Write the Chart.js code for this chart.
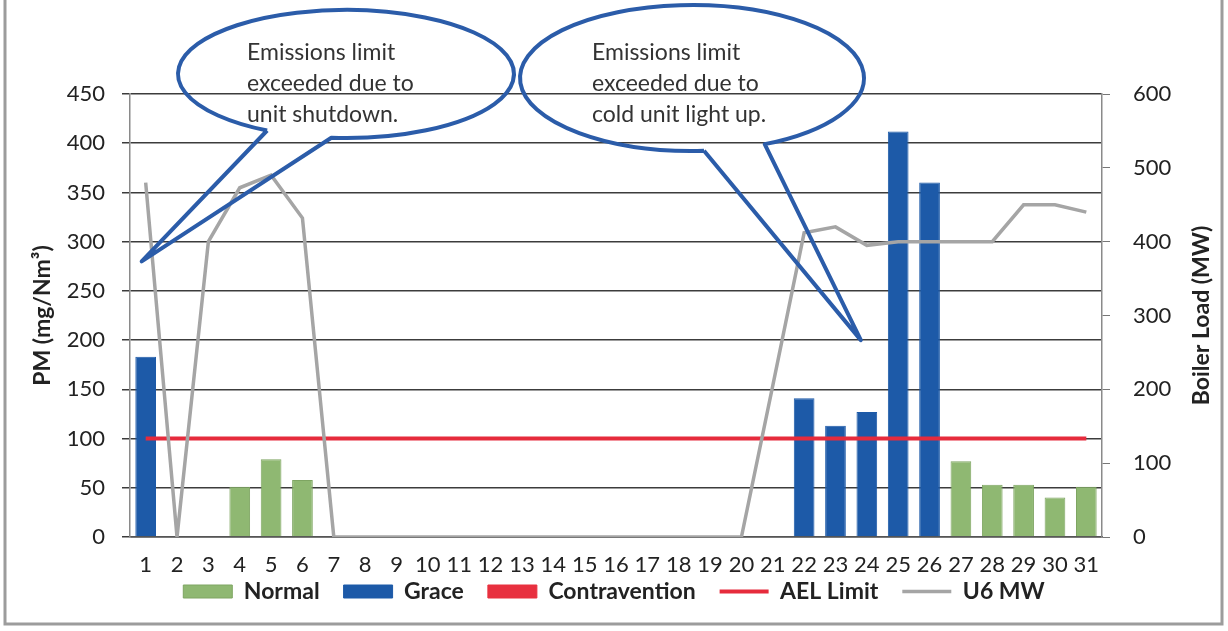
<!DOCTYPE html>
<html>
<head>
<meta charset="utf-8">
<script src="https://cdn.jsdelivr.net/npm/chart.js@4.4.1/dist/chart.umd.min.js"></script>
<style>
  html, body { margin: 0; padding: 0; background: #fff; overflow: hidden; }
  #wrap { width: 1228px; height: 631px; position: relative; }
</style>
</head>
<body>
<div id="wrap"><canvas id="graficoPM"></canvas></div>
<script>
const days = ['1','2','3','4','5','6','7','8','9','10','11','12','13','14','15','16',
  '17','18','19','20','21','22','23','24','25','26','27','28','29','30','31'];

const normal = [null, null, null, 51, 79, 58, null, null, null, null, null, null, null, null, null, null,
  null, null, null, null, null, null, null, null, null, null, 77, 53, 53, 40, 51];

const grace = [183, null, null, null, null, null, null, null, null, null, null, null, null, null, null, null,
  null, null, null, null, null, 141, 113, 127, 412, 360, null, null, null, null, null];

const contravention = [null, null, null, null, null, null, null, null, null, null, null, null, null, null, null, null,
  null, null, null, null, null, null, null, null, null, null, null, null, null, null, null];

const aelLimit = [100, 100, 100, 100, 100, 100, 100, 100, 100, 100, 100, 100, 100, 100, 100, 100,
  100, 100, 100, 100, 100, 100, 100, 100, 100, 100, 100, 100, 100, 100, 100];

const u6MW = [480, 0, 400, 473, 490, 432, 0, 0, 0, 0, 0, 0, 0, 0, 0, 0,
  0, 0, 0, 0, 205, 412, 420, 395, 400, 400, 400, 400, 450, 450, 440];

const callouts = [
  { lines: ['Emissions limit', 'exceeded due to', 'unit shutdown.'], day: 0, pm: 280 },
  { lines: ['Emissions limit', 'exceeded due to', 'cold unit light up.'], day: 23, pm: 200 }
];

const FONT = 'Lato, "Open Sans", sans-serif';

// marco gris, titulo derecho y globos de texto
const extras = {
  id: 'extras',
  beforeInit(chart) {
    const fit = chart.legend.fit;
    chart.legend.fit = function () {
      fit.bind(chart.legend)();
      this.height = 52;
    };
  },
  afterLayout(chart) {
    chart.legend.top -= 23;
    chart.legend.bottom -= 23;
  },
  beforeDraw(chart) {
    const ctx = chart.ctx;
    ctx.save();
    ctx.fillStyle = '#fff';
    ctx.fillRect(0, 0, chart.width, chart.height);
    ctx.restore();
  },
  afterDraw(chart) {
    const ctx = chart.ctx;
    const x = chart.scales.x, y = chart.scales.y;

    ctx.save();
    ctx.font = 'bold 23px ' + FONT;
    ctx.fillStyle = '#222';
    ctx.textAlign = 'center';
    ctx.textBaseline = 'middle';
    ctx.translate(1202, (chart.chartArea.top + chart.chartArea.bottom) / 2);
    ctx.rotate(-Math.PI / 2);
    ctx.fillText('Boiler Load (MW)', 0, 0);
    ctx.restore();

    const shapes = [
      { cx: 346, cy: 74, rx: 168, ry: 64, a1: 95, a2: 118, tx: 247, dx: -4 },
      { cx: 692, cy: 78, rx: 172, ry: 73, a1: 65, a2: 86, tx: 592, dx: -6 }
    ];
    ctx.save();
    ctx.strokeStyle = '#2b5ca9';
    ctx.lineWidth = 4;
    ctx.lineJoin = 'round';
    shapes.forEach((s, i) => {
      const c = callouts[i];
      const tipX = x.getPixelForValue(c.day) + s.dx;
      const tipY = y.getPixelForValue(c.pm);
      const r1 = s.a1 * Math.PI / 180, r2 = s.a2 * Math.PI / 180;
      ctx.beginPath();
      ctx.ellipse(s.cx, s.cy, s.rx, s.ry, 0, r2, r1 + Math.PI * 2);
      ctx.lineTo(tipX, tipY);
      ctx.lineTo(s.cx + s.rx * Math.cos(r2), s.cy + s.ry * Math.sin(r2));
      ctx.stroke();

      ctx.font = '23px ' + FONT;
      ctx.fillStyle = '#333';
      ctx.textAlign = 'left';
      ctx.textBaseline = 'middle';
      c.lines.forEach((t, k) => ctx.fillText(t, s.tx, 53 + k * 31));
    });
    ctx.restore();

    ctx.save();
    ctx.strokeStyle = '#9c9c9c';
    ctx.lineWidth = 3;
    ctx.beginPath();
    ctx.moveTo(5, 0);
    ctx.lineTo(5, 624);
    ctx.lineTo(1222, 624);
    ctx.lineTo(1222, 0);
    ctx.stroke();
    ctx.restore();
  }
};

const ctx = document.getElementById('graficoPM').getContext('2d');
new Chart(ctx, {
  type: 'bar',
  data: {
    labels: days,
    datasets: [{
      label: 'Normal',
      data: normal,
      backgroundColor: '#8fb872',
      borderColor: '#7ea562',
      borderWidth: 1,
      pointStyle: 'rect',
      grouped: false,
      barPercentage: 0.66,
      categoryPercentage: 1,
      yAxisID: 'y',
      order: 2
    }, {
      label: 'Grace',
      data: grace,
      backgroundColor: '#1d5aa8',
      borderColor: '#1d5aa8',
      borderWidth: 1,
      pointStyle: 'rect',
      grouped: false,
      barPercentage: 0.66,
      categoryPercentage: 1,
      yAxisID: 'y',
      order: 2
    }, {
      label: 'Contravention',
      data: contravention,
      backgroundColor: '#e8303f',
      borderColor: '#e8303f',
      borderWidth: 1,
      pointStyle: 'rect',
      grouped: false,
      barPercentage: 0.66,
      categoryPercentage: 1,
      yAxisID: 'y',
      order: 2
    }, {
      type: 'line',
      label: 'AEL Limit',
      data: aelLimit,
      borderColor: '#e62b3c',
      backgroundColor: '#e62b3c',
      borderWidth: 4,
      pointRadius: 0,
      pointStyle: 'line',
      yAxisID: 'y',
      order: 1
    }, {
      type: 'line',
      label: 'U6 MW',
      data: u6MW,
      borderColor: '#a5a5a5',
      backgroundColor: '#a5a5a5',
      borderWidth: 3.5,
      pointRadius: 0,
      pointStyle: 'line',
      tension: 0,
      yAxisID: 'y1',
      order: 0
    }]
  },
  options: {
    responsive: true,
    maintainAspectRatio: false,
    animation: false,
    layout: { padding: { top: 94, bottom: 0, left: 0, right: 0 } },
    plugins: {
      tooltip: { enabled: false },
      legend: {
        position: 'bottom',
        labels: {
          usePointStyle: true,
          pointStyleWidth: 49,
          boxHeight: 13,
          padding: 24,
          color: '#222',
          font: { family: FONT, size: 23, weight: 'bold' },
          sort: (a, b) => a.datasetIndex - b.datasetIndex
        }
      }
    },
    scales: {
      x: {
        offset: true,
        grid: { display: false, drawTicks: false },
        border: { color: '#555', width: 1.5 },
        ticks: { color: '#222', padding: 15, maxRotation: 0, autoSkip: false, font: { family: FONT, size: 22 } },
        afterFit: s => { s.height = 42; }
      },
      y: {
        position: 'left',
        min: 0,
        max: 450,
        ticks: { stepSize: 50, color: '#222', padding: 17, font: { family: FONT, size: 22 } },
        grid: { color: '#3c3c3c', lineWidth: 1.5, tickLength: 8 },
        border: { color: '#8a8a8a', width: 1.5 },
        title: {
          display: true,
          text: 'PM (mg/Nm³)',
          color: '#222',
          padding: { top: 29 },
          font: { family: FONT, size: 23, weight: 'bold' }
        },
        afterFit: s => { s.width = 130; }
      },
      y1: {
        position: 'right',
        min: 0,
        max: 600,
        ticks: { stepSize: 100, color: '#222', padding: 23, font: { family: FONT, size: 22 } },
        grid: { drawOnChartArea: false, color: '#777', tickLength: 8 },
        border: { color: '#8a8a8a', width: 1.5 },
        afterFit: s => { s.width = 126; }
      }
    }
  },
  plugins: [extras]
});
</script>
</body>
</html>
